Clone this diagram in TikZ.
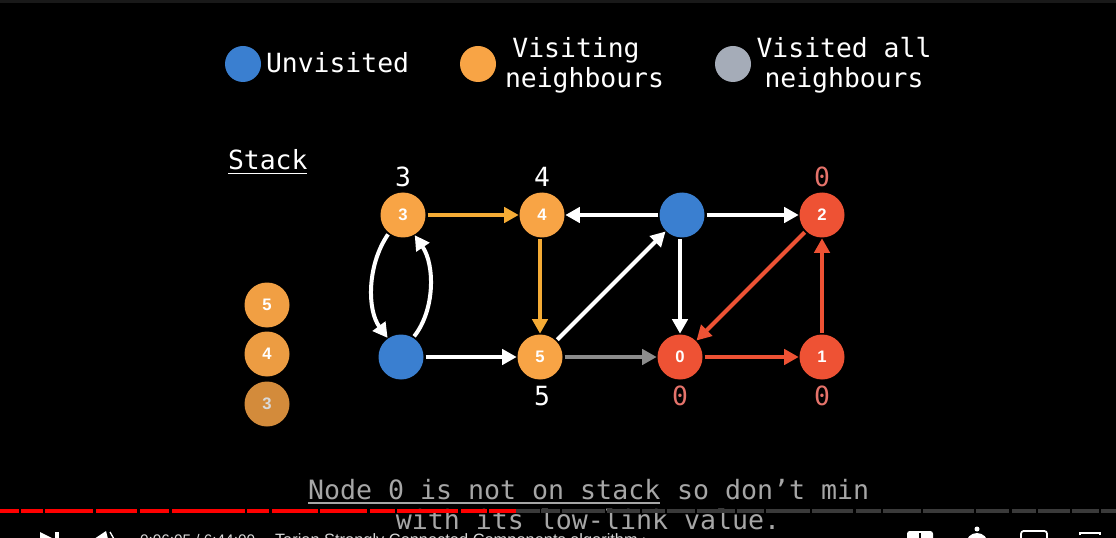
\documentclass[tikz,border=0pt]{standalone}
\usepackage{fontspec}
\setmainfont{DejaVu Sans Mono}
\newfontfamily\labfont{Liberation Sans}
\usetikzlibrary{arrows.meta}
\definecolor{cblue}{HTML}{3A7FD0}
\definecolor{corange}{HTML}{F8A445}
\definecolor{cred}{HTML}{EE5234}
\definecolor{cgrey}{HTML}{A5ACB8}
\definecolor{cedge}{HTML}{F5AB35}
\definecolor{clow}{HTML}{E5736B}
\definecolor{ccap}{HTML}{A6A6A6}
\definecolor{cbar}{HTML}{FF0000}
\definecolor{cbarb}{HTML}{3A3A3A}
\tikzset{
  vertex/.style={circle,draw=none,minimum size=45*0.75pt,inner sep=0pt,outer sep=0pt,text=white,font=\labfont\bfseries\fontsize{12.5pt}{14pt}\selectfont},
  legenddot/.style={circle,draw=none,minimum size=36*0.75pt,inner sep=0pt,outer sep=0pt},
  mono/.style={text=white,font=\fontsize{19.8pt}{22.6pt}\selectfont,inner sep=0pt,outer sep=0pt,align=center},
  low/.style={mono},
  caption/.style={text=ccap,font=\fontsize{19.95pt}{22.6pt}\selectfont,inner sep=0pt,outer sep=0pt},
  edge/.style={line width=3pt,-{Triangle[length=11pt,width=11.5pt]},shorten >=0.6pt,shorten <=1.5pt},
  wedge/.style={edge,draw=white},
  oedge/.style={edge,draw=cedge},
  redge/.style={edge,draw=cred},
  gedge/.style={edge,draw=black!45},
  barp/.style={line width=2.8pt},
  uiglyph/.style={fill=white,draw=none},
  uitext/.style={text=white!85!black,font=\labfont\fontsize{11.5pt}{13pt}\selectfont,inner sep=0pt,outer sep=0pt}
}
\begin{document}
\begin{tikzpicture}[x=0.75pt,y=-0.75pt]
\path[use as bounding box,fill=black] (0,0) rectangle (1116,538);
\clip (0,0) rectangle (1116,538);
\fill[black!90] (0,0) rectangle (1116,3);

% legend
\node[legenddot,fill=cblue] (lu) at (243,64) {};
\node[legenddot,fill=corange] (lv) at (478,64) {};
\node[legenddot,fill=cgrey] (la) at (733,64) {};
\node[mono,anchor=base west] (tu) at (266,73) {Unvisited};
\node[mono,anchor=base] (tv1) at (576,58) {Visiting};
\node[mono,anchor=base] (tv2) at (584.5,88) {neighbours};
\node[mono,anchor=base] (ta1) at (844,58) {Visited all};
\node[mono,anchor=base] (ta2) at (844,88) {neighbours};

% stack
\node[mono,anchor=base west] (st) at (228,170) {Stack};
\draw[white,line width=1.3pt] (st.west |- 0,173.5) coordinate (su1) -- (st.east |- 0,173.5) coordinate (su2);
\node[vertex,fill=corange!97!black] (s5) at (267,305) {5};
\node[vertex,fill=corange!95!black] (s4) at (267,354) {4};
\node[vertex,fill=corange!85!black,text=white!85!black] (s3) at (267,404) {3};

% graph
\node[vertex,fill=corange] (n3) at (403,215) {3};
\node[vertex,fill=corange] (n4) at (542,215) {4};
\node[vertex,fill=cblue] (nt) at (682,215) {};
\node[vertex,fill=cred] (n2) at (822,215) {2};
\node[vertex,fill=cblue] (nb) at (401,357) {};
\node[vertex,fill=corange] (n5) at (540,357) {5};
\node[vertex,fill=cred] (n0) at (680,357) {0};
\node[vertex,fill=cred] (n1) at (822,357) {1};

\draw[oedge] (n3) -- (n4);
\draw[oedge] (n4.south -| n5) -- (n5.north);
\draw[wedge] (nt) -- (n4);
\draw[wedge] (nt) -- (n2);
\draw[wedge] (nt.south -| n0) -- (n0.north);
\draw[wedge] (nb) -- (n5);
\draw[wedge] (n5) -- (nt);
\draw[gedge] (n5) -- (n0);
\draw[redge] (n0) -- (n1);
\draw[redge] (n1) -- (n2);
\draw[redge] (n2) -- (n0);
\draw[wedge] (n3.232) .. controls (367,265) and (367,310) .. (nb.125);
\draw[wedge] (nb.58) .. controls (435,310) and (435,265) .. (n3.-60);

% low-link labels
\node[low] (l3) at (403,177) {3};
\node[low] (l4) at (542,177) {4};
\node[low,text=clow] (l2) at (822,177) {0};
\node[low] (l5) at (542,396) {5};
\node[low,text=clow] (l0) at (680,396) {0};
\node[low,text=clow] (l1) at (822,396) {0};

% caption
\node[caption,anchor=base west] (c1) at (308,499) {Node 0 is not on stack};
\node[caption,anchor=base west] (c2) at (677,499) {so don’t min};
\draw[ccap,line width=1.5pt] (c1.west |- 0,503) coordinate (cu1) -- (c1.east |- 0,503) coordinate (cu2);
\node[caption,anchor=base] (c3) at (588,529) {with its low-link value.};

% progress bar
\foreach \a/\b in {0/19,21/43,45/93,96/137,140/169,172/245,247/269,272/318,320/367,370/395,397/458,461/487,489/516}
  \draw[cbar,barp] (\a,511) -- (\b,511);
\foreach \a/\b in {516/540,541/560,562/605,607/640,642/665,667/695,697/735,737/764,766/810,812/853,856/881,883/921,923/974,976/1009,1012/1036,1038/1070,1072/1099,1101/1116}
  \draw[cbarb,barp] (\a,511) -- (\b,511);

% player controls (cut by the frame)
\fill[uiglyph] (40,532) -- (54,539) -- (40,539) -- cycle;
\fill[uiglyph] (55,532) rectangle (59,539);
\fill[uiglyph] (94,539) -- (106,531) -- (108,539) -- cycle;
\draw[white,line width=1pt] (110,532) -- (114,539);
\node[uitext,anchor=base west] (ui) at (140,545) {0:06:05 / 6:44:00};
\node[uitext,anchor=base west,font=\labfont\fontsize{12.3pt}{14pt}\selectfont] (ui2) at (275,545) {Tarjan Strongly Connected Components algorithm ›};
\fill[uiglyph,rounded corners=2pt] (907,531) rectangle (933,542);
\fill[black] (919,533) rectangle (921,539);
\fill[uiglyph] (977,529) circle (2.5);
\fill[uiglyph] (977,544) circle (11);
\draw[white,line width=1.3pt,rounded corners=2pt] (1021,531) rectangle (1047,545);
\draw[white,line width=1.5pt] (1080,535) -- (1080,533) -- (1100,533) -- (1100,535);
\end{tikzpicture}
\end{document}
